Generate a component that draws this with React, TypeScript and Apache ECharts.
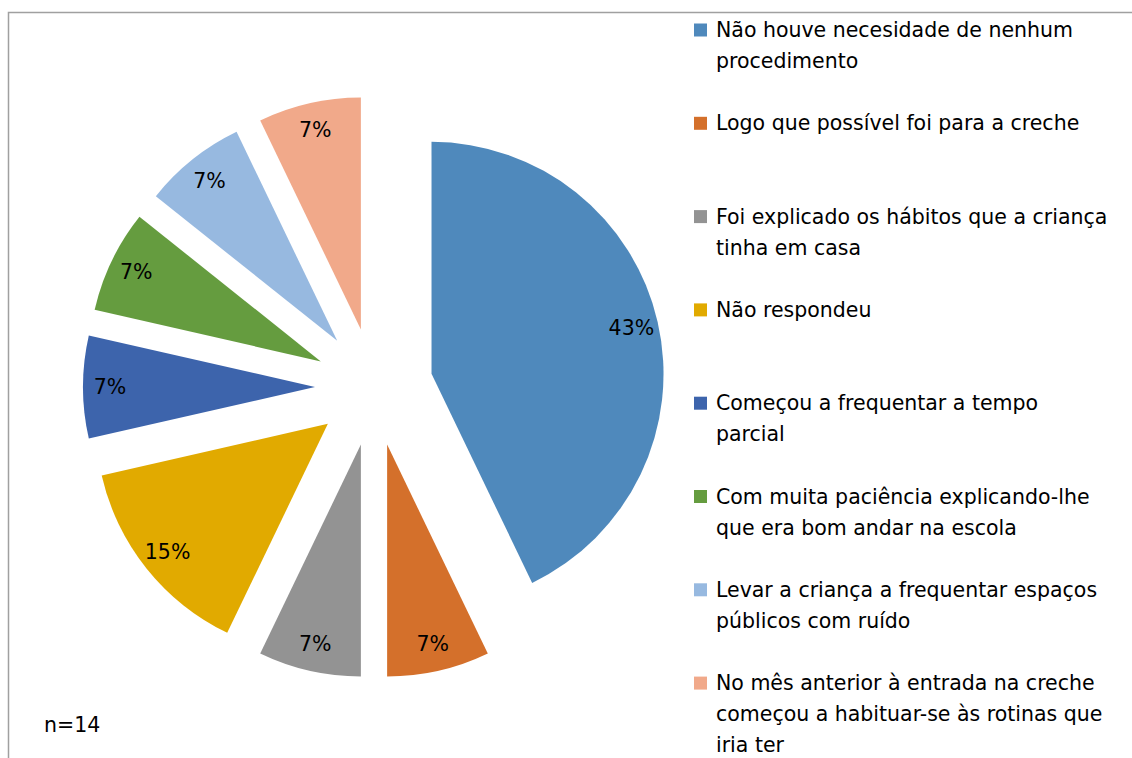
import React, { useEffect, useRef } from "react";
import * as echarts from "echarts";

const categories: string[] = [
  "Não houve necesidade de nenhum procedimento",
  "Logo que possível foi para a creche",
  "Foi explicado os hábitos que a criança tinha em casa",
  "Não respondeu",
  "Começou a frequentar a tempo parcial",
  "Com muita paciência explicando-lhe que era bom andar na escola",
  "Levar a criança a frequentar espaços públicos com ruído",
  "No mês anterior à entrada na creche começou a habituar-se às rotinas que iria ter",
];

const legendLines: string[][] = [
  ["Não houve necesidade de nenhum", "procedimento"],
  ["Logo que possível foi para a creche"],
  ["Foi explicado os hábitos que a criança", "tinha em casa"],
  ["Não respondeu"],
  ["Começou a frequentar a tempo", "parcial"],
  ["Com muita paciência explicando-lhe", "que era bom andar na escola"],
  ["Levar a criança a frequentar espaços", "públicos com ruído"],
  ["No mês anterior à entrada na creche", "começou a habituar-se às rotinas que", "iria ter"],
];

// respondents per answer (n = 14)
const counts: number[] = [6, 1, 1, 2, 1, 1, 1, 1];
// percentage labels as printed on the slices
const percentLabels: string[] = ["43%", "7%", "7%", "15%", "7%", "7%", "7%", "7%"];

const colors: string[] = [
  "#4F89BC",
  "#D4702B",
  "#939393",
  "#E1AA00",
  "#3D64AC",
  "#659C3F",
  "#97B9E0",
  "#F1A98A",
];

const noteText = "n=14";
const FONT = "'DejaVu Sans', 'Noto Sans', sans-serif";
const FS = 20.5;

export default function App() {
  const ref = useRef<HTMLDivElement>(null);

  useEffect(() => {
    document.body.style.margin = "0";
    if (!ref.current) return;
    const chart = echarts.init(ref.current, undefined, { renderer: "svg" });

    const center = [374, 387];
    const R = 232;
    const offset = 59;
    const LH = 31;
    const firstLine = 30;
    const step = 93.3;

    const legends = categories.map((c, i) => {
      const lines = legendLines[i];
      const pre = lines.length - 1;
      const text = Array(pre).fill("").concat(lines).join("\n");
      return {
        orient: "vertical",
        left: 694,
        top: firstLine + i * step - (pre + 0.5) * LH,
        padding: 0,
        itemWidth: 13,
        itemHeight: 13,
        icon: "rect",
        selectedMode: false,
        data: [c],
        formatter: () => text,
        textStyle: {
          fontFamily: FONT,
          fontSize: FS,
          lineHeight: LH,
          color: "#000000",
          padding: [0, 0, 0, 4],
        },
      };
    });

    const visibleData = categories.map((c, i) => ({
      name: c,
      value: counts[i],
      selected: true,
      itemStyle: { color: colors[i] },
    }));
    const labelData = categories.map((c, i) => ({
      name: c,
      value: counts[i],
      selected: true,
      itemStyle: { color: "rgba(0,0,0,0)" },
    }));

    chart.setOption({
      animation: false,
      backgroundColor: "#ffffff",
      textStyle: { fontFamily: FONT },
      legend: legends,
      graphic: [
        {
          type: "rect",
          shape: { x: 8.5, y: 12.5, width: 1200, height: 800 },
          style: { fill: "none", stroke: "#a0a0a0", lineWidth: 1.5 },
          silent: true,
        },
        {
          type: "text",
          left: 44,
          top: 714,
          style: {
            text: noteText,
            fontFamily: FONT,
            fontSize: FS,
            fill: "#000000",
          },
          silent: true,
        },
      ],
      series: [
        {
          type: "pie",
          center,
          radius: [0, R],
          startAngle: 90,
          clockwise: true,
          selectedMode: "multiple",
          selectedOffset: offset,
          emphasis: { disabled: true },
          select: { itemStyle: { borderWidth: 0 } },
          label: { show: false },
          labelLine: { show: false },
          itemStyle: { borderWidth: 0 },
          data: visibleData,
          silent: true,
        },
        {
          type: "pie",
          center,
          radius: [172, R],
          startAngle: 90,
          clockwise: true,
          selectedMode: "multiple",
          selectedOffset: offset,
          emphasis: { disabled: true },
          select: { itemStyle: { borderWidth: 0, color: "rgba(0,0,0,0)" } },
          label: {
            show: true,
            position: "inside",
            formatter: (p: any) => percentLabels[p.dataIndex],
            fontFamily: FONT,
            fontSize: FS,
            color: "#000000",
          },
          labelLine: { show: false },
          itemStyle: { borderWidth: 0 },
          data: labelData,
          silent: true,
        },
      ],
    });

    return () => chart.dispose();
  }, []);

  return <div ref={ref} style={{ width: 1132, height: 758 }} />;
}
